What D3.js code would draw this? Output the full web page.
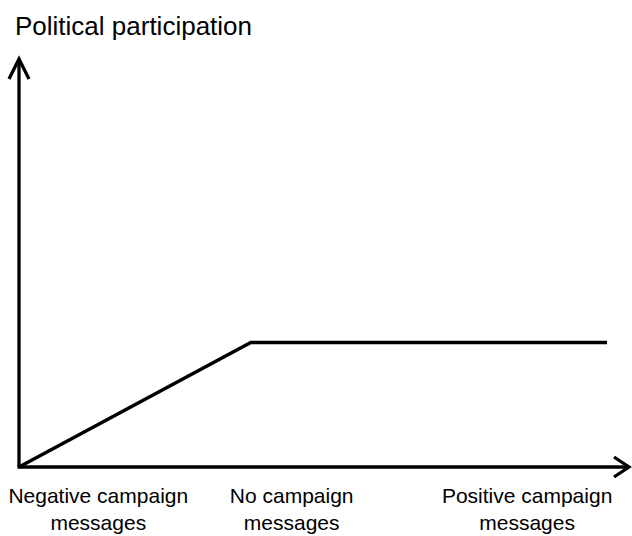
<!DOCTYPE html>
<html><head><meta charset="utf-8">
<script src="https://cdn.jsdelivr.net/npm/d3@7"></script>
<style>html,body{margin:0;padding:0;background:#fff;}svg{display:block;}</style>
</head><body>
<script>
const categories = [["Negative campaign","messages"],["No campaign","messages"],["Positive campaign","messages"]];
const categoryAt = [0.13, 0.447, 0.833];
const seriesX = [0, 0.38, 0.964];
const seriesY = [0, 0.305, 0.305];
const yTitle = "Political participation";

const W = 632, H = 536;
const svg = d3.select("body").append("svg").attr("width", W).attr("height", H);
const x = d3.scaleLinear().domain([0, 1]).range([19, 629]);
const y = d3.scaleLinear().domain([0, 1]).range([467, 59]);

// axes
const g = svg.append("g").attr("stroke", "#000").attr("fill", "none").attr("stroke-width", 3.3);
g.append("line").attr("x1", x(0)).attr("y1", y(0)).attr("x2", x(0)).attr("y2", y(1) + 1);
g.append("line").attr("x1", x(0) - 1.5).attr("y1", y(0)).attr("x2", x(1) - 1).attr("y2", y(0));
g.append("path").attr("d", `M${x(0)-10},${y(1)+20} L${x(0)},${y(1)} L${x(0)+10},${y(1)+20}`).attr("stroke-linejoin","miter");
g.append("path").attr("d", `M${x(1)-15},${y(0)-10} L${x(1)},${y(0)} L${x(1)-15},${y(0)+10}`).attr("stroke-linejoin","miter");

// series line
const line = d3.line().x(d => x(d[0])).y(d => y(d[1]));
svg.append("path").datum(seriesX.map((v, i) => [v, seriesY[i]]))
  .attr("d", line).attr("fill", "none").attr("stroke", "#000").attr("stroke-width", 3.5);

// title
svg.append("text").attr("x", 15).attr("y", 35).attr("font-family", "'Liberation Sans', Arial, sans-serif")
  .attr("font-size", 26).attr("fill", "#000").text(yTitle);

// category labels
categories.forEach((c, i) => {
  const t = svg.append("text").attr("text-anchor", "middle").attr("font-family", "'Liberation Sans', Arial, sans-serif")
    .attr("font-size", 21).attr("fill", "#000");
  c.forEach((s, j) => t.append("tspan").attr("x", x(categoryAt[i])).attr("y", 503 + j * 27).text(s));
});
</script>
</body></html>
